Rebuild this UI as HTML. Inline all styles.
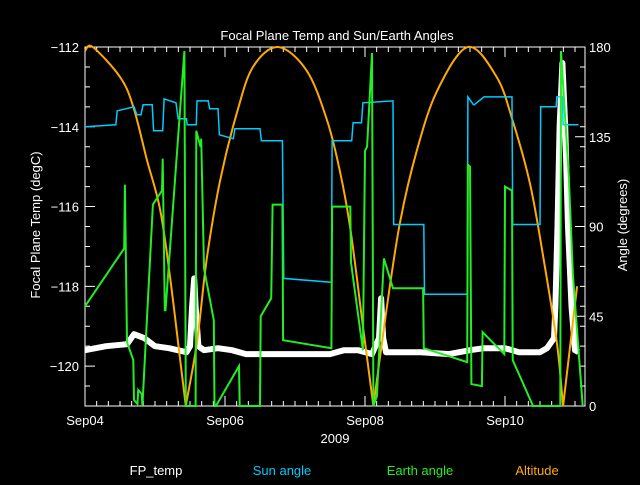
<!DOCTYPE html>
<html><head><meta charset="utf-8"><style>
body{margin:0;background:#000;width:640px;height:480px;overflow:hidden}
svg text{font-family:"Liberation Sans",sans-serif;font-size:13px}
</style></head><body>
<svg id="c" width="640" height="480" xmlns="http://www.w3.org/2000/svg">
<rect width="640" height="480" fill="#000"/>
<text x="337" y="40" fill="#fff" text-anchor="middle" font-size="15">Focal Plane Temp and Sun/Earth Angles</text>
<text transform="translate(40,225) rotate(-90)" fill="#fff" text-anchor="middle">Focal Plane Temp (degC)</text>
<text transform="translate(627,225) rotate(-90)" fill="#fff" text-anchor="middle">Angle (degrees)</text>
<text x="335" y="443" fill="#fff" text-anchor="middle">2009</text>
<g id="axes"></g>
<g id="series"></g>
<text x="156" y="475" fill="#fff" text-anchor="middle">FP_temp</text>
<text x="282" y="475" fill="#00ccff" text-anchor="middle">Sun angle</text>
<text x="420" y="475" fill="#22ee22" text-anchor="middle">Earth angle</text>
<text x="537" y="475" fill="#ffaa00" text-anchor="middle">Altitude</text>
</svg>
<script>
const xDateLabels=["Sep04","Sep06","Sep08","Sep10"];
const xDateDays=[0,2,4,6];
const tempTicks=[-112,-114,-116,-118,-120];
const angleTicks=[180,135,90,45,0];
const altDays=[0,0.11,0.5,0.69,0.88,1.07,1.21,1.36,1.44,1.6,1.74,1.93,2.17,2.4,2.76,3.17,3.46,3.64,3.79,3.97,4.12,4.31,4.5,4.74,5.03,5.47,5.88,6.11,6.36,6.55,6.74,6.83,7.03];
const altVals=[178,180,165,150,124,99,66,23,0,32,74,113,147,170,180,168,143,118,89,40,0,49,92,128,158,180,165,143,111,74,32,0,60];
const sunDays=[0,0.44,0.46,0.7,0.74,0.8,0.83,0.96,0.98,1.11,1.13,1.3,1.33,1.45,1.46,1.59,1.6,1.76,1.78,1.9,1.92,2.12,2.14,2.5,2.52,2.82,2.84,3.52,3.53,3.81,3.83,3.95,3.97,4.4,4.41,4.84,4.85,5.46,5.47,5.55,5.56,5.7,5.71,6.1,6.11,6.5,6.51,6.73,6.74,6.82,6.83,7.05];
const sunVals=[140,141,148,150,146,146,151,151,138,138,154,152,144,144,141,141,153,153,149,149,136,134,139,139,133,133,64,62,133,133,142,142,152,153,91,91,56,56,155,151,151,155,155,155,91,91,150,150,155,155,141,141];
const earthDays=[0,0.56,0.57,0.6,0.69,0.7,0.75,0.76,0.81,0.82,0.97,1.1,1.11,1.14,1.15,1.42,1.44,1.58,1.59,1.65,1.66,1.7,1.84,1.85,1.87,2.2,2.21,2.5,2.51,2.66,2.68,2.82,2.83,3.52,3.53,3.79,3.8,3.97,4.0,4.03,4.1,4.12,4.17,4.27,4.4,4.83,4.84,5.46,5.47,5.5,5.52,5.67,5.68,5.99,6.0,6.1,6.11,6.25,6.4,6.79,6.8,6.91,6.97,7.11];
const earthVals=[50,79,111,32,23,3,1,8,6,0,101,108,124,48,48,178,0,0,138,130,134,69,43,0,0,20,0,0,45,54,101,101,33,29,100,100,72,28,128,130,177,0,5,74,59,59,29,22,121,120,11,10,37,26,110,108,23,12,0,0,178,116,66,0];
const fpDays=[0,0.3,0.6,0.7,0.85,1.0,1.2,1.45,1.5,1.53,1.56,1.58,1.62,1.7,1.9,2.1,2.3,2.5,2.7,2.9,3.2,3.5,3.7,3.9,4.1,4.2,4.23,4.26,4.3,4.4,4.8,5.2,5.5,5.7,6.0,6.2,6.5,6.6,6.7,6.72,6.75,6.78,6.82,6.86,6.9,6.95,7.0,7.05];
const fpVals=[-119.6,-119.5,-119.45,-119.2,-119.3,-119.5,-119.55,-119.65,-119.5,-118.5,-117.8,-118.5,-119.5,-119.6,-119.55,-119.6,-119.7,-119.7,-119.7,-119.7,-119.7,-119.7,-119.6,-119.6,-119.7,-119.3,-118.3,-119.3,-119.65,-119.65,-119.65,-119.7,-119.6,-119.55,-119.55,-119.65,-119.65,-119.55,-119.3,-118.5,-116.5,-114,-112.4,-114,-116.5,-118.5,-119.6,-119.65];
const L=85,R=585,T=47,B=406;
const X=d=>L+d*70;
const YT=t=>T+(-112-t)*(B-T)/9;
const YA=a=>B-a*(B-T)/180;
const NS="http://www.w3.org/2000/svg";
const ax=document.getElementById('axes'),se=document.getElementById('series');
function mk(tag,attrs,parent){const e=document.createElementNS(NS,tag);for(const k in attrs)e.setAttribute(k,attrs[k]);parent.appendChild(e);return e;}
const frame=mk('rect',{x:L,y:T,width:R-L,height:B-T,fill:'none',stroke:'#fff','stroke-width':1},ax);


let tk='';
for(let t=-112;t>=-121;t-=0.5){const y=YT(t);const len=(Math.abs(t%2)<0.01)?10:5;tk+=`M${L} ${y}h${len}`;}
for(let a=0;a<=180;a+=10){const y=YA(a);tk+=`M${R} ${y}h-5`;}
for(const a of angleTicks){tk+=`M${R} ${YA(a)}h-10`;}
for(let d=0;d<=7.15;d+=1/6){const x=X(d);tk+=`M${x} ${B}v-5M${x} ${T}v5`;}
for(const d of xDateDays){tk+=`M${X(d)} ${B}v-10M${X(d)} ${T}v10`;}
const ticks=mk('path',{d:tk,stroke:'#fff','stroke-width':1,fill:'none'},ax);


tempTicks.forEach(t=>{const e=mk('text',{x:L-6,y:YT(t)+5,fill:'#fff','text-anchor':'end'},ax);e.textContent='\u2212'+Math.abs(t);

});
angleTicks.forEach(a=>{const e=mk('text',{x:R+4,y:YA(a)+5,fill:'#fff'},ax);e.textContent=a;

});
xDateLabels.forEach((s,i)=>{const e=mk('text',{x:X(xDateDays[i]),y:425,fill:'#fff','text-anchor':'middle'},ax);e.textContent=s;

});
function pts(ds,vs,f){return ds.map((d,i)=>X(d).toFixed(1)+','+f(vs[i]).toFixed(1)).join(' ');}
function smooth(ds,vs,f){const p=ds.map((d,i)=>[X(d),f(vs[i])]);let s=`M${p[0][0]} ${p[0][1]}`;
for(let i=0;i<p.length-1;i++){const p0=p[Math.max(0,i-1)],p1=p[i],p2=p[i+1],p3=p[Math.min(p.length-1,i+2)];
const c1=[p1[0]+(p2[0]-p0[0])/6,p1[1]+(p2[1]-p0[1])/6],c2=[p2[0]-(p3[0]-p1[0])/6,p2[1]-(p3[1]-p1[1])/6];
if(vs[i+1]===0){c2[0]=p2[0]-(p2[0]-p1[0])/3;c2[1]=p2[1]-(p2[1]-p1[1])/3;}
if(vs[i]===0){c1[0]=p1[0]+(p2[0]-p1[0])/3;c1[1]=p1[1]+(p2[1]-p1[1])/3;}
s+=`C${c1[0].toFixed(1)} ${c1[1].toFixed(1)} ${c2[0].toFixed(1)} ${c2[1].toFixed(1)} ${p2[0].toFixed(1)} ${p2[1].toFixed(1)}`;}
return s;}
const fp=mk('polyline',{points:pts(fpDays,fpVals,YT),fill:'none',stroke:'#fff','stroke-width':6,'stroke-linejoin':'round'},se);


fpDays.forEach((d,i)=>{if(fpVals[i]>-119.2){const m=mk('text',{x:X(d),y:YT(fpVals[i])+8,fill:'#fff','text-anchor':'middle','font-size':'14'},se);m.textContent='*';

}});
const alt=mk('path',{d:smooth(altDays,altVals,YA),fill:'none',stroke:'#ffaa00','stroke-width':2},se);


const sun=mk('polyline',{points:pts(sunDays,sunVals,YA),fill:'none',stroke:'#00ccff','stroke-width':1.5},se);


const earth=mk('polyline',{points:pts(earthDays,earthVals,YA),fill:'none',stroke:'#22ee22','stroke-width':2},se);


</script>
</body></html>
